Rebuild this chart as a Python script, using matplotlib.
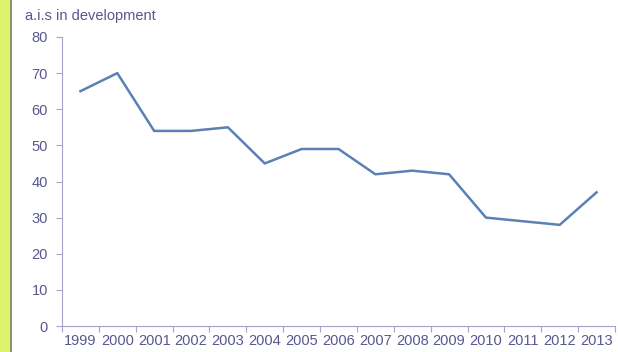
import numpy as np
import matplotlib.pyplot as plt
from matplotlib.patches import Rectangle

years = ['1999', '2000', '2001', '2002', '2003', '2004', '2005', '2006',
         '2007', '2008', '2009', '2010', '2011', '2012', '2013']
ais = [65, 70, 54, 54, 55, 45, 49, 49, 42, 43, 42, 30, 29, 28, 37]

text_col = '#58588e'
axis_col = '#a3a3cc'
line_col = '#5b80b4'

plt.rcParams['font.family'] = ['Liberation Sans', 'DejaVu Sans']

fig = plt.figure(figsize=(6.18, 3.52), dpi=100)
# green side band of the slide
fig.patches.append(Rectangle((0, 0), 9.5 / 618, 1, transform=fig.transFigure,
                             facecolor='#dcf36c', edgecolor='none'))
fig.patches.append(Rectangle((9.5 / 618, 0), 2 / 618, 1, transform=fig.transFigure,
                             facecolor='#8c9070', edgecolor='none'))

ax = fig.add_axes([62 / 618, 1 - 326 / 352, 553 / 618, 289 / 352])
x = np.arange(len(years))
ax.plot(x, ais, color=line_col, lw=1.8)

ax.set_xlim(-0.5, len(years) - 0.5)
ax.set_ylim(0, 80)
ax.set_yticks(range(0, 81, 10))
ax.set_xticks(np.arange(-0.5, len(years)), labels=[])
ax.set_xticks(x, labels=years, minor=True)
ax.tick_params(axis='x', which='major', length=4, direction='out', color=axis_col, width=0.8)
ax.tick_params(axis='x', which='minor', length=0, pad=6, labelsize=10.5, labelcolor=text_col)
ax.tick_params(axis='y', length=4, direction='out', color=axis_col, width=0.8,
               labelsize=10.5, labelcolor=text_col, pad=6)

for s in ['top', 'right']:
    ax.spines[s].set_visible(False)
for s in ['left', 'bottom']:
    ax.spines[s].set_color(axis_col)
    ax.spines[s].set_linewidth(0.8)

fig.text(25 / 618, 1 - 16 / 352, 'a.i.s in development', color=text_col,
         fontsize=10.5, va='center', ha='left')

fig.savefig('out.png', dpi=100)
